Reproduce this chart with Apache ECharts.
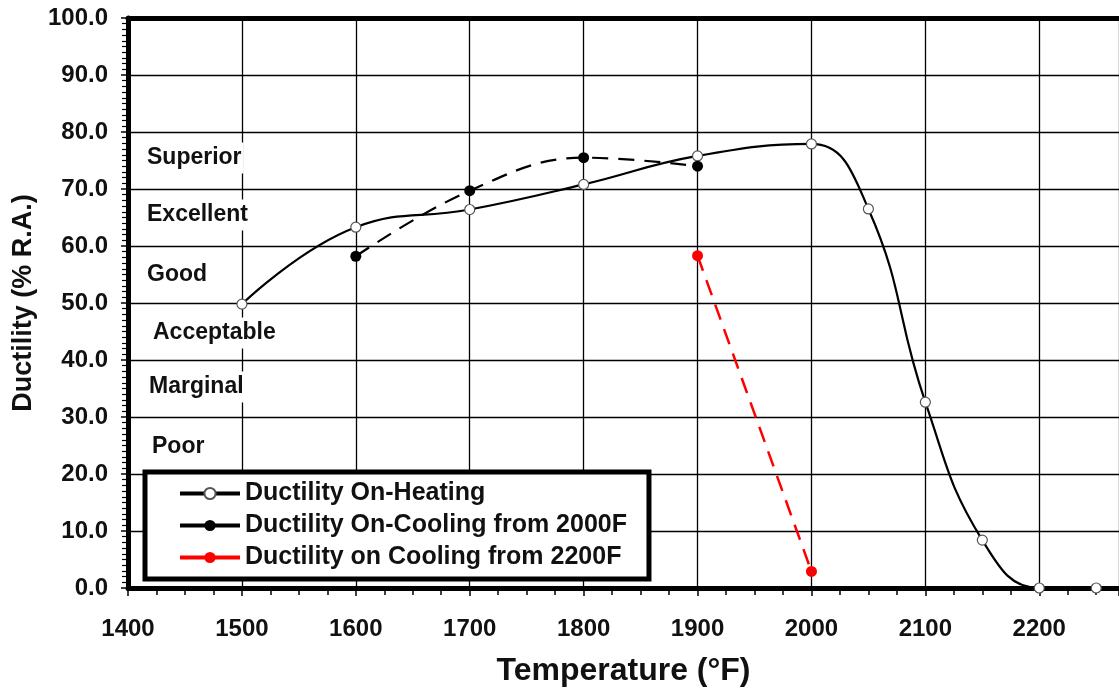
<!DOCTYPE html>
<html>
<head>
<meta charset="utf-8">
<script src="https://cdn.jsdelivr.net/npm/echarts@6/dist/echarts.min.js"></script>
<style>
  html, body { margin: 0; padding: 0; background: #fff; }
  #chart { width: 1119px; height: 694px; }
</style>
</head>
<body>
<div id="chart"></div>
<script>
// temperatures (F) and ductility (% R.A.)
var heatingTemps = [1500, 1600, 1700, 1800, 1900, 2000, 2050, 2100, 2150, 2200, 2250];
var heatingVals  = [49.8, 63.3, 66.4, 70.8, 75.8, 77.9, 66.5, 32.6, 8.4, 0.0, 0.0];

var cool2000Temps = [1600, 1700, 1800, 1900];
var cool2000Vals  = [58.2, 69.7, 75.5, 74.0];

var cool2200Temps = [1900, 2000];
var cool2200Vals  = [58.3, 2.9];

var bandNames = ['Superior', 'Excellent', 'Good', 'Acceptable', 'Marginal', 'Poor'];

var seriesNames = ['Ductility On-Heating', 'Ductility On-Cooling from 2000F', 'Ductility on Cooling from 2200F'];

function pairs(xs, ys) {
    var out = [];
    for (var i = 0; i < xs.length; i++) out.push([xs[i], ys[i]]);
    return out;
}

var font = 'Liberation Sans, Arial, sans-serif';

// band labels, placed by pixel (annotation text, not data)
var bandPos = [[145, 158], [145, 215], [145, 275], [151, 333], [147, 387], [150, 447]];
var graphics = [];
for (var i = 0; i < bandNames.length; i++) {
    graphics.push({
        type: 'text',
        x: bandPos[i][0],
        y: bandPos[i][1],
        z: 3,
        style: {
            text: bandNames[i],
            font: 'bold 23px ' + font,
            fill: '#111',
            verticalAlign: 'middle',
            backgroundColor: '#fff',
            padding: [4, 2]
        }
    });
}

var option = {
    animation: false,
    backgroundColor: '#fff',
    grid: { left: 128, top: 18, right: 0, bottom: 106 },
    legend: {
        orient: 'vertical',
        left: 145,
        top: 472,
        padding: [8, 22, 8, 33],
        itemGap: 5,
        itemWidth: 60,
        itemHeight: 14,
        backgroundColor: '#fff',
        borderColor: '#000',
        borderWidth: 5,
        lineStyle: { width: 4, type: 'solid' },
        textStyle: { fontFamily: font, fontSize: 25, fontWeight: 'bold', color: '#111', lineHeight: 27 },
        data: seriesNames
    },
    graphic: graphics,
    xAxis: [{
        type: 'value',
        min: 1400,
        max: 2270,
        interval: 100,
        name: 'Temperature (°F)',
        nameLocation: 'middle',
        nameGap: 67,
        nameTextStyle: { fontFamily: font, fontSize: 32, fontWeight: 'bold', color: '#111' },
        axisLine: { show: true, lineStyle: { color: '#000', width: 5 } },
        axisTick: { show: true, length: 8, lineStyle: { color: '#000', width: 1.5 } },
        minorTick: { show: true, splitNumber: 4, length: 7, lineStyle: { color: '#000', width: 1.5 } },
        axisLabel: {
            margin: 29, fontFamily: font, fontSize: 24, fontWeight: 'bold', color: '#111',
            showMaxLabel: false,
            formatter: function (v) { return String(v); }
        },
        splitLine: { show: true, lineStyle: { color: '#000', width: 1.3 } }
    }, {
        type: 'value',
        position: 'top',
        min: 1400,
        max: 2270,
        axisLine: { show: true, lineStyle: { color: '#000', width: 5 } },
        axisTick: { show: false },
        axisLabel: { show: false },
        splitLine: { show: false }
    }],
    yAxis: {
        type: 'value',
        min: 0,
        max: 100,
        interval: 10,
        name: 'Ductility (% R.A.)',
        nameLocation: 'middle',
        nameGap: 89,
        nameTextStyle: { fontFamily: font, fontSize: 27, fontWeight: 'bold', color: '#111' },
        axisLine: { show: true, lineStyle: { color: '#000', width: 5 } },
        axisTick: { show: true, length: 7, lineStyle: { color: '#000', width: 1.5 } },
        minorTick: { show: true, splitNumber: 10, length: 6, lineStyle: { color: '#000', width: 1.2 } },
        axisLabel: {
            margin: 20, fontFamily: font, fontSize: 24, fontWeight: 'bold', color: '#111',
            formatter: function (v) { return v.toFixed(1); }
        },
        splitLine: { show: true, lineStyle: { color: '#000', width: 1.3 } }
    },
    series: [{
        name: seriesNames[0],
        type: 'line',
        smooth: 0.45,
        data: pairs(heatingTemps, heatingVals),
        symbol: 'circle',
        symbolSize: 10,
        z: 5,
        lineStyle: { color: '#000', width: 2.2 },
        itemStyle: { color: '#fff', borderColor: '#555', borderWidth: 1.2 }
    }, {
        name: seriesNames[1],
        type: 'line',
        smooth: 0.4,
        data: pairs(cool2000Temps, cool2000Vals),
        symbol: 'circle',
        symbolSize: 11,
        z: 6,
        lineStyle: { color: '#000', width: 2.2, type: [16, 10] },
        itemStyle: { color: '#000', borderColor: '#000', borderWidth: 0 }
    }, {
        name: seriesNames[2],
        type: 'line',
        data: pairs(cool2200Temps, cool2200Vals),
        symbol: 'circle',
        symbolSize: 11,
        z: 6,
        lineStyle: { color: '#ff0000', width: 2.5, type: [16, 10] },
        itemStyle: { color: '#ff0000', borderWidth: 0 }
    }]
};

var myChart = echarts.init(document.getElementById('chart'));
myChart.setOption(option);
</script>
</body>
</html>
